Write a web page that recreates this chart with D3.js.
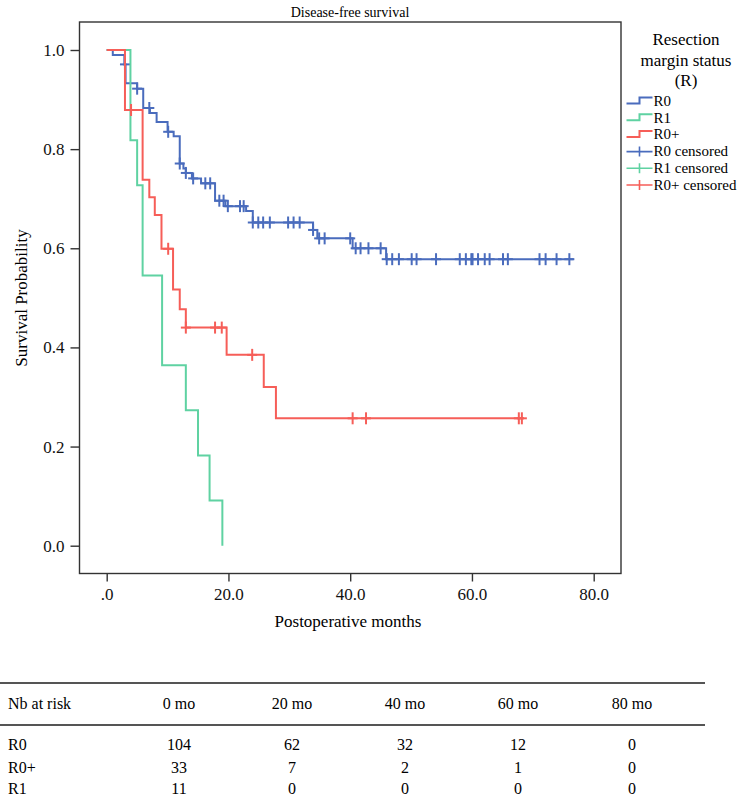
<!DOCTYPE html>
<html>
<head>
<meta charset="utf-8">
<script src="https://cdn.jsdelivr.net/npm/d3@7"></script>
<style>
  body { margin: 0; background: #fff; }
  svg { display: block; font-family: "Liberation Serif", "Times New Roman", serif; }
</style>
</head>
<body>
<svg id="chart" width="751" height="798"></svg>
<script>
// step curves: time of each drop and survival after it
const r0Times = [1.0, 2.9, 3.1, 5.0, 6.0, 7.1, 8.2, 10.0, 11.0, 12.0, 12.6, 13.0, 14.0, 15.5, 17.8, 19.5, 22.9, 24.0, 33.9, 34.6, 40.4, 45.9];
const r0Surv  = [0.990, 0.971, 0.933, 0.922, 0.883, 0.873, 0.855, 0.835, 0.826, 0.771, 0.761, 0.752, 0.741, 0.731, 0.696, 0.685, 0.675, 0.652, 0.637, 0.620, 0.600, 0.578];
const r0Censor = [3.0, 5.0, 7.0, 10.1, 12.0, 13.0, 14.2, 16.2, 17.0, 18.5, 19.2, 19.9, 21.9, 22.5, 24.0, 24.9, 25.7, 26.8, 29.8, 30.7, 31.7, 33.9, 34.9, 35.8, 40.0, 40.9, 41.7, 43.0, 45.0, 46.0, 46.9, 48.0, 50.1, 50.9, 54.1, 58.0, 59.0, 59.9, 60.1, 61.0, 62.1, 62.9, 65.1, 65.9, 71.1, 72.1, 73.9, 76.0];
const r0End = 76.7;

const r1Times = [3.9, 5.0, 5.9, 9.1, 13.0, 15.0, 16.9, 19.0];
const r1Surv  = [0.818, 0.727, 0.545, 0.364, 0.273, 0.182, 0.091, 0.0];
const r1Censor = [];
const r1End = 19.0;

const r0pTimes = [3.0, 5.9, 7.0, 7.9, 9.0, 10.9, 12.0, 13.0, 19.7, 25.8, 27.8];
const r0pSurv  = [0.879, 0.738, 0.703, 0.667, 0.599, 0.517, 0.477, 0.440, 0.385, 0.320, 0.257];
const r0pCensor = [4.0, 10.1, 13.0, 17.8, 18.9, 23.9, 40.4, 42.6, 67.7, 68.2];
const r0pEnd = 68.5;

const xTicks = [0, 20, 40, 60, 80];
const xTickLabels = [".0", "20.0", "40.0", "60.0", "80.0"];
const yTicks = [0, 0.2, 0.4, 0.6, 0.8, 1.0];

const legendTitle = ["Resection", "margin status", "(R)"];
const legendItems = ["R0", "R1", "R0+", "R0 censored", "R1 censored", "R0+ censored"];

const tableHeader = ["Nb at risk", "0 mo", "20 mo", "40 mo", "60 mo", "80 mo"];
const tableGroups = ["R0", "R0+", "R1"];
const atRiskR0  = [104, 62, 32, 12, 0];
const atRiskR0p = [33, 7, 2, 1, 0];
const atRiskR1  = [11, 0, 0, 0, 0];

const colBlue = "#4a6cbd", colGreen = "#5fd2a2", colRed = "#f65e58";

const svg = d3.select("#chart");
const frame = {left: 79.5, right: 621, top: 22, bottom: 573.5};

const x = d3.scaleLinear().domain([0, 80]).range([106.7, 593.7]);
const y = d3.scaleLinear().domain([0, 1]).range([545.7, 50]);

// title
svg.append("text").attr("x", 350).attr("y", 17).attr("text-anchor", "middle")
  .style("font-size", "14px").text("Disease-free survival");

// frame
svg.append("rect").attr("x", frame.left).attr("y", frame.top)
  .attr("width", frame.right - frame.left).attr("height", frame.bottom - frame.top)
  .attr("fill", "none").attr("stroke", "#333").attr("stroke-width", 1.4);

// axes
const xAxis = d3.axisBottom(x).tickValues(xTicks).tickSize(8).tickPadding(6)
  .tickFormat((d, i) => xTickLabels[i]);
const gx = svg.append("g").attr("transform", `translate(0,${frame.bottom})`).call(xAxis);
gx.select(".domain").remove();

const yAxis = d3.axisLeft(y).tickValues(yTicks).tickSize(9).tickPadding(6)
  .tickFormat(d3.format(".1f"));
const gy = svg.append("g").attr("transform", `translate(${frame.left},0)`).call(yAxis);
gy.select(".domain").remove();

svg.selectAll(".tick line").attr("stroke", "#333").attr("stroke-width", 1.4);
svg.selectAll(".tick text").attr("fill", "#111")
  .style("font-family", "Liberation Serif, serif").style("font-size", "17px");

svg.append("text").attr("x", 348).attr("y", 627).attr("text-anchor", "middle")
  .style("font-size", "17px").text("Postoperative months");
svg.append("text").attr("transform", "translate(27,298) rotate(-90)").attr("text-anchor", "middle")
  .style("font-size", "17px").text("Survival Probability");

// curves
function survAt(times, surv, t) {
  let s = 1;
  for (let i = 0; i < times.length; i++) if (t >= times[i]) s = surv[i];
  return s;
}

const line = d3.line().x(d => x(d[0])).y(d => y(d[1])).curve(d3.curveStepAfter);

function drawGroup(times, surv, censor, end, color) {
  const pts = [[0, 1]];
  times.forEach((t, i) => pts.push([t, surv[i]]));
  const last = surv[surv.length - 1];
  if (end > times[times.length - 1]) pts.push([end, last]);
  svg.append("path").datum(pts).attr("d", line)
    .attr("fill", "none").attr("stroke", color).attr("stroke-width", 2);
  const g = svg.append("g").attr("stroke", color).attr("stroke-width", 2);
  censor.forEach(t => {
    const cx = x(t), cy = y(survAt(times, surv, t));
    g.append("line").attr("x1", cx).attr("x2", cx).attr("y1", cy - 6).attr("y2", cy + 6);
    g.append("line").attr("x1", cx - 5).attr("x2", cx + 5).attr("y1", cy).attr("y2", cy);
  });
}

drawGroup(r0Times, r0Surv, r0Censor, r0End, colBlue);
drawGroup(r1Times, r1Surv, r1Censor, r1End, colGreen);
drawGroup(r0pTimes, r0pSurv, r0pCensor, r0pEnd, colRed);

// legend
legendTitle.forEach((t, i) => {
  svg.append("text").attr("x", 686).attr("y", 45 + i * 20.5).attr("text-anchor", "middle")
    .style("font-size", "17px").text(t);
});
const legColors = [colBlue, colGreen, colRed, colBlue, colGreen, colRed];
legendItems.forEach((t, i) => {
  const cy = 100.5 + i * 16.7;
  const g = svg.append("g");
  if (i < 3) {
    g.append("path").attr("d", `M626.5,${cy + 3}H639.5V${cy - 3}H652.5`)
      .attr("fill", "none").attr("stroke", legColors[i]).attr("stroke-width", 2);
  } else {
    g.append("path").attr("d", `M626.5,${cy + 1}H652.5M639.5,${cy - 4}V${cy + 6}`)
      .attr("fill", "none").attr("stroke", legColors[i]).attr("stroke-width", 1.6);
  }
  g.append("text").attr("x", 653.5).attr("y", cy + 5.5).style("font-size", "15px").text(t);
});

// number at risk table
const colX = [8, 179, 292, 405, 518, 632];
const rowY = [704, 745, 768, 789];
svg.append("line").attr("x1", 0).attr("x2", 705).attr("y1", 683).attr("y2", 683)
  .attr("stroke", "#555").attr("stroke-width", 2);
svg.append("line").attr("x1", 0).attr("x2", 705).attr("y1", 725).attr("y2", 725)
  .attr("stroke", "#555").attr("stroke-width", 2);

tableHeader.forEach((t, i) => {
  svg.append("text").attr("x", colX[i]).attr("y", rowY[0] + 5)
    .attr("text-anchor", i === 0 ? "start" : "middle").style("font-size", "16px").text(t);
});
[atRiskR0, atRiskR0p, atRiskR1].forEach((row, r) => {
  svg.append("text").attr("x", colX[0]).attr("y", rowY[r + 1] + 5).style("font-size", "16px").text(tableGroups[r]);
  row.forEach((v, i) => {
    svg.append("text").attr("x", colX[i + 1]).attr("y", rowY[r + 1] + 5)
      .attr("text-anchor", "middle").style("font-size", "16px").text(v);
  });
});
</script>
</body>
</html>
